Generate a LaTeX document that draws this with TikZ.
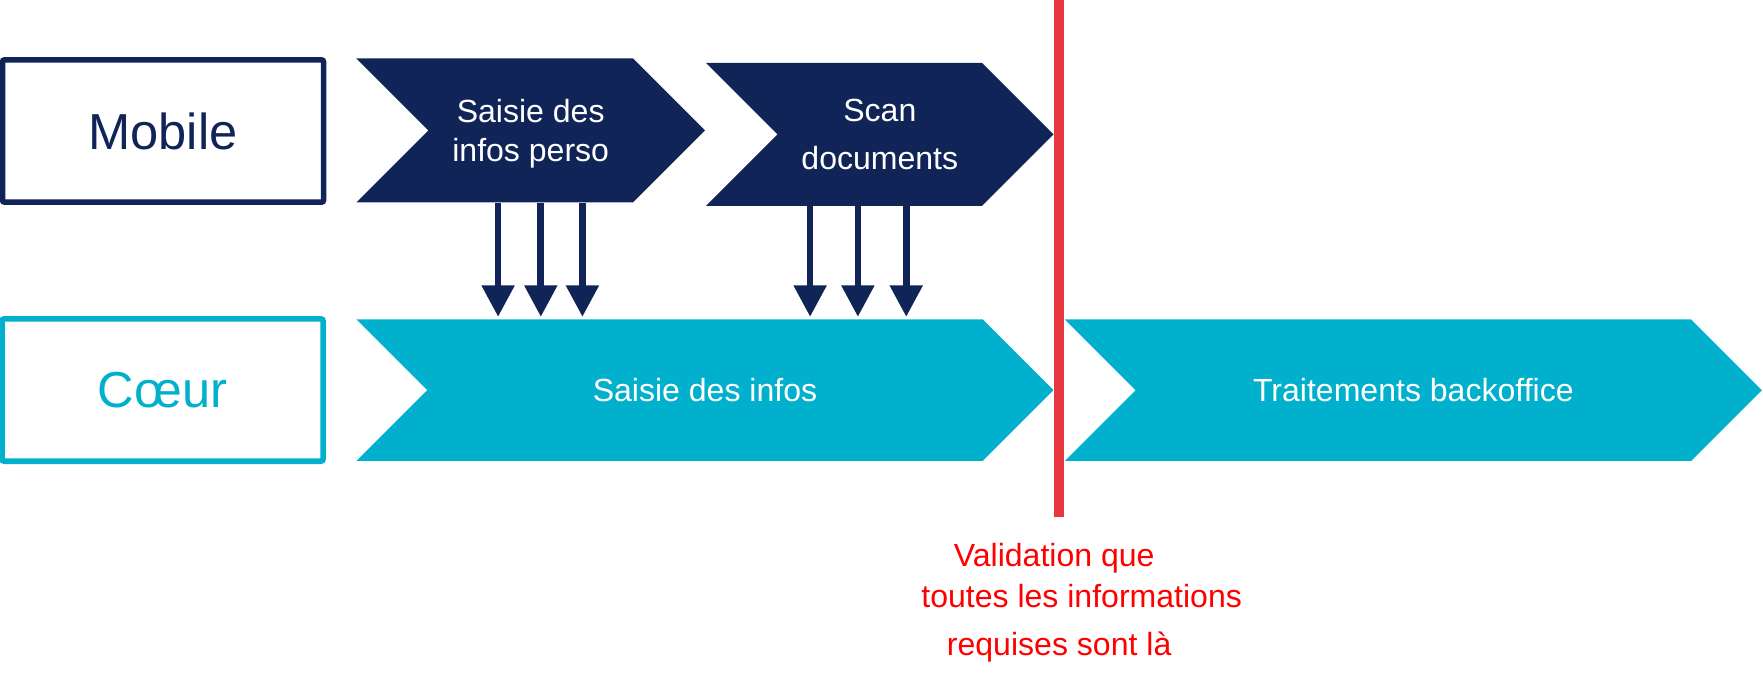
\documentclass[tikz,border=0pt]{standalone}
\usepackage{fontspec}
\setmainfont{Liberation Sans}
\usetikzlibrary{shapes.symbols,arrows.meta}
\definecolor{navy}{HTML}{102457}
\definecolor{cyanb}{HTML}{00B0CC}
\definecolor{redline}{HTML}{E8383F}
\definecolor{redtxt}{HTML}{FF0000}
\begin{document}
\begin{tikzpicture}[x=1pt,y=-1pt,
  lane/.style={draw, line width=5pt, rounded corners=2pt, minimum width=285.6pt, minimum height=126.6pt, inner sep=0pt, font=\fontsize{45}{50}\selectfont},
  chev/.style={signal, signal to=east, signal from=west, signal pointer angle=90, inner sep=0pt, text=white, align=center},
  arr/.style={draw=navy, line width=6pt, -{Triangle[length=28pt,width=28pt]}, shorten >=2pt},
  note/.style={text=redtxt, font=\fontsize{28.5}{34}\selectfont, anchor=base}]
\useasboundingbox (0,0) rectangle (1568,608.3);

% lanes
\node[lane, draw=navy, text=navy] (mob) at (145,116.5) {Mobile};
\node[lane, draw=cyanb, text=cyanb] (coeur) at (144.6,346.9) {Cœur};

% chevrons
\node[chev, fill=navy, minimum width=310pt, minimum height=128pt, text depth=0pt, font=\fontsize{28.5}{35}\selectfont] (sp) at (472,116) {Saisie des\\infos perso};
\node[chev, fill=navy, minimum width=309pt, minimum height=127pt, font=\fontsize{28.5}{43}\selectfont] (sd) at (782.5,119.5) {Scan\\documents};
\node[chev, fill=cyanb, minimum width=620pt, minimum height=126pt, font=\fontsize{28.5}{35}\selectfont] (si) at (627,347) {Saisie des infos};
\node[chev, fill=cyanb, minimum width=620pt, minimum height=126pt, font=\fontsize{28.5}{35}\selectfont] (tb) at (1257,347) {Traitements backoffice};

% arrows
\coordinate (p1) at ([xshift=-29pt]sp.south);
\coordinate (p2) at ([xshift=9pt]sp.south);
\coordinate (p3) at ([xshift=46pt]sp.south);
\coordinate (q1) at ([xshift=-62pt]sd.south);
\coordinate (q2) at ([xshift=-19.5pt]sd.south);
\coordinate (q3) at ([xshift=23.5pt]sd.south);
\foreach \c in {p1,p2,p3,q1,q2,q3}
  \draw[arr] (\c) -- (\c |- si.north);

% red line
\coordinate (rt) at (942,0);
\coordinate (rb) at (942,460);
\draw[redline, line width=9pt] (rt) -- (rb);

% note
\node[note] (v1) at (937.6,504) {Validation que};
\node[note] (v2) at (962,540) {toutes les informations};
\node[note] (v3) at (942,583) {requises sont là};
\end{tikzpicture}
\end{document}
